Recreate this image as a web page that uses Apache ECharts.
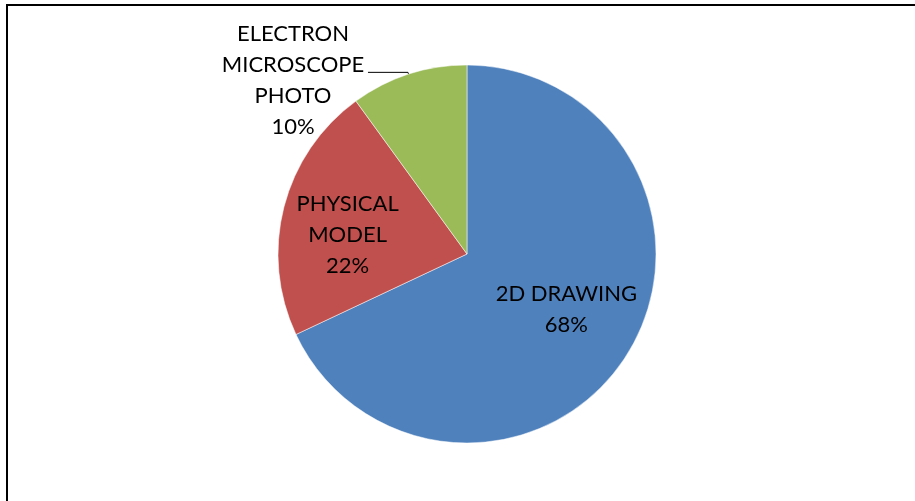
<!DOCTYPE html>
<html>
<head>
<meta charset="utf-8">
<script src="https://cdn.jsdelivr.net/npm/echarts@6/dist/echarts.min.js"></script>
<style>
  html, body { margin: 0; padding: 0; background: #fff; }
  #chart { width: 915px; height: 501px; }
</style>
</head>
<body>
<div id="chart"></div>
<script>
// slice data, clockwise from 12 o'clock
const categories = ['2D DRAWING', 'PHYSICAL MODEL', 'ELECTRON MICROSCOPE PHOTO'];
const labelLines = ['2D DRAWING', 'PHYSICAL\nMODEL', 'ELECTRON\nMICROSCOPE\nPHOTO'];
const percents = [68, 22, 10];
const colors = ['#4F81BD', '#C0504D', '#9BBB59'];

const chart = echarts.init(document.getElementById('chart'));

const font = 'Lato';
const data = categories.map((name, i) => {
  const item = {
    name: name,
    value: percents[i],
    itemStyle: { color: colors[i] }
  };
  if (i === 2) {
    item.label = {
      position: 'outside',
      padding: [16, 0, 0, 0],
      distanceToLabelLine: 4,
      formatter: (p) => '{t|' + labelLines[p.dataIndex] + '\n' + p.value + '%}',
      rich: {
        t: { width: 142, align: 'center', fontFamily: font, fontSize: 22, lineHeight: 31, color: '#000' }
      }
    };
    item.labelLine = { show: true, length: 2, length2: 40, lineStyle: { color: '#000', width: 1 } };
  }
  return item;
});

const option = {
  backgroundColor: '#fff',
  animation: false,
  graphic: [
    {
      type: 'rect',
      shape: { x: 7, y: 5, width: 1000, height: 600 },
      style: { fill: 'none', stroke: '#000', lineWidth: 2 },
      silent: true
    }
  ],
  series: [
    {
      type: 'pie',
      center: [467, 254],
      radius: 189,
      startAngle: 90,
      clockwise: true,
      avoidLabelOverlap: false,
      itemStyle: { borderColor: '#fff', borderWidth: 0.5 },
      label: {
        show: true,
        position: 'inside',
        color: '#000',
        fontFamily: font,
        fontSize: 22,
        lineHeight: 31,
        align: 'center',
        formatter: (p) => labelLines[p.dataIndex] + '\n' + p.value + '%'
      },
      labelLine: { show: false },
      labelLayout: (p) => {
        if (p.dataIndex === 0) return { dx: 17, dy: 3 };
        if (p.dataIndex === 1) return { dx: -25, dy: 5 };
        return {};
      },
      data: data
    }
  ]
};

chart.setOption(option);
window.addEventListener('resize', () => chart.resize());
</script>
</body>
</html>
